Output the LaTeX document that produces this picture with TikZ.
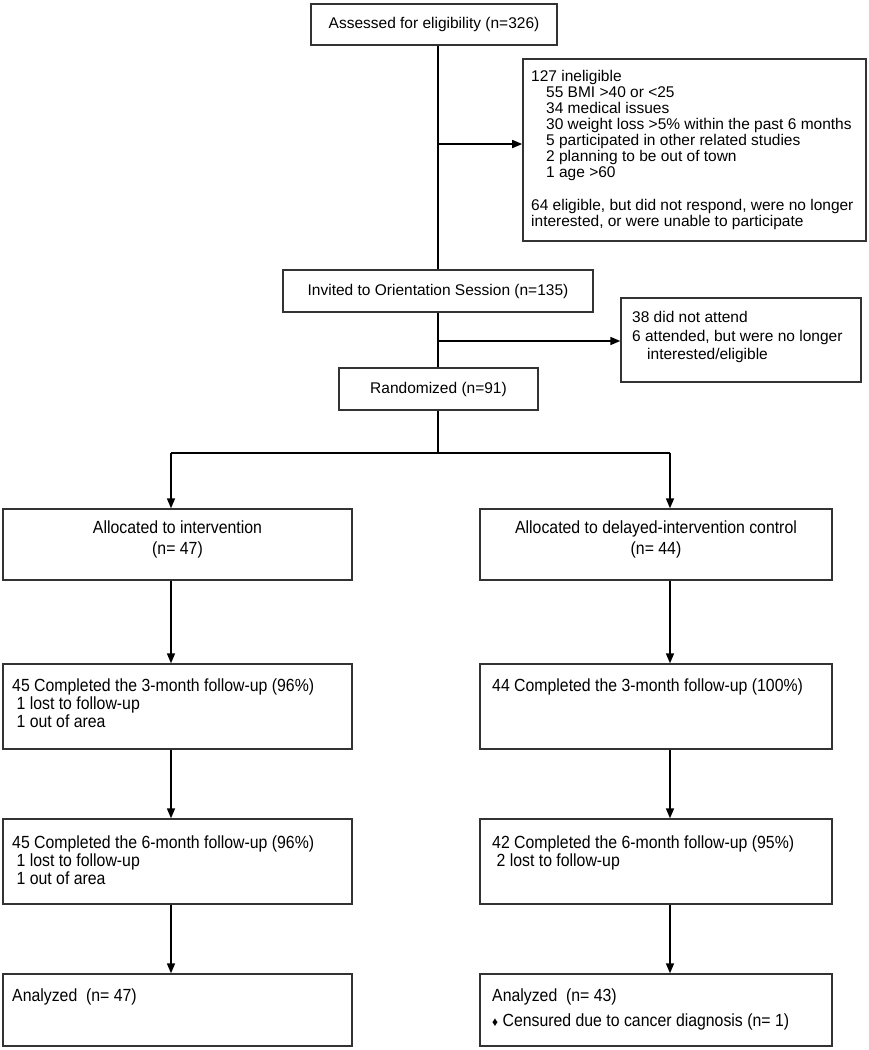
\documentclass[tikz,border=0pt]{standalone}
\usepackage{fontspec}
\setmainfont{Liberation Sans}
\newfontfamily\narrowfont[FakeStretch=0.9]{Liberation Sans}
\usetikzlibrary{arrows.meta}
\begin{document}
\begin{tikzpicture}[x=1pt,y=-1pt,
  box/.style={draw=black!80, line width=1.4pt, rectangle, inner sep=0pt},
  txt/.style={inner sep=0pt, anchor=north west, align=left},
  ctxt/.style={inner sep=0pt, align=center},
  up/.style={font=\fontsize{15.5}{16}\selectfont},
  upb/.style={font=\fontsize{15.5}{18.5}\selectfont},
  low/.style={font=\narrowfont\fontsize{17.6}{18}\selectfont},
  lowc/.style={font=\narrowfont\fontsize{17.6}{20.5}\selectfont},
  lowa/.style={font=\narrowfont\fontsize{17.6}{25}\selectfont},
  link/.style={line width=1.6pt, black},
  arr/.style={link, -{Triangle[length=10pt,width=8pt]}}
]
\useasboundingbox (0,0) rectangle (868,1050);

% top part
\node[box, minimum width=246pt, minimum height=41pt, up] (A) at (434,24.5) {Assessed for eligibility (n=326)};
\node[box, minimum width=343pt, minimum height=182pt] (E1) at (694.4,150) {};
\node[txt, up] (E1t) at (531,70.5) {127 ineligible\\\hspace*{15pt}55 BMI >40 or <25\\\hspace*{15pt}34 medical issues\\\hspace*{15pt}30 weight loss >5\% within the past 6 months\\\hspace*{15pt}5 participated in other related studies\\\hspace*{15pt}2 planning to be out of town\\\hspace*{15pt}1 age >60\\[17pt]64 eligible, but did not respond, were no longer\\interested, or were unable to participate};

\node[box, minimum width=310pt, minimum height=42pt, up] (I) at (438,291) {Invited to Orientation Session (n=135)};
\node[box, minimum width=240pt, minimum height=84pt] (E2) at (741,340) {};
\node[txt, upb] (E2t) at (632,311.5) {38 did not attend\\6 attended, but were no longer\\\hspace*{15pt}interested/eligible};

\node[box, minimum width=199pt, minimum height=42pt, up] (R) at (438.5,389) {Randomized (n=91)};

% arms
\node[box, minimum width=349pt, minimum height=71pt] (L1) at (177.5,544.5) {};
\node[ctxt, lowc] (L1t) at (177.5,539.5) {Allocated to intervention\\(n= 47)};
\node[box, minimum width=352pt, minimum height=71pt] (R1) at (656,544.5) {};
\node[ctxt, lowc] (R1t) at (656,539.5) {Allocated to delayed-intervention control\\(n= 44)};

\node[box, minimum width=349pt, minimum height=85pt] (L2) at (177.5,706.5) {};
\node[txt, low] (L2t) at (12,678.5) {45 Completed the 3-month follow-up (96\%)\\\hspace*{4.4pt}1 lost to follow-up\\\hspace*{4.4pt}1 out of area};
\node[box, minimum width=352pt, minimum height=85pt] (R2) at (656,706.5) {};
\node[txt, low] (R2t) at (492,678.5) {44 Completed the 3-month follow-up (100\%)};

\node[box, minimum width=349pt, minimum height=85pt] (L3) at (177.5,861.5) {};
\node[txt, low] (L3t) at (12,835.5) {45 Completed the 6-month follow-up (96\%)\\\hspace*{4.4pt}1 lost to follow-up\\\hspace*{4.4pt}1 out of area};
\node[box, minimum width=352pt, minimum height=85pt] (R3) at (656,861.5) {};
\node[txt, low] (R3t) at (492,835.5) {42 Completed the 6-month follow-up (95\%)\\\hspace*{4.4pt}2 lost to follow-up};

\node[box, minimum width=349pt, minimum height=72pt] (L4) at (177.5,1010) {};
\node[txt, lowa] (L4t) at (12,989) {Analyzed\ \ (n= 47)};
\node[box, minimum width=352pt, minimum height=72pt] (R4) at (656,1010) {};
\node[txt, lowa] (R4t) at (492,989) {Analyzed\ \ (n= 43)\\{\fontsize{13}{13}\selectfont ♦} Censured due to cancer diagnosis (n= 1)};

% connectors
\coordinate (j1) at (438,144);
\coordinate (j2) at (438,341);
\coordinate (sl) at (171,453);
\coordinate (sr) at (670,453);
\draw[link] (A.south -| I.north) -- (I.north);
\draw[arr] (j1) -- (j1 -| E1.west);
\draw[link] (I.south) -- (I.south |- R.north);
\draw[arr] (j2) -- (j2 -| E2.west);
\draw[link] (I.south |- R.south) -- (I.south |- sl);
\draw[link] (sl) -- (sr);
\draw[arr] (sl) -- (sl |- L1.north);
\draw[arr] (sr) -- (sr |- R1.north);
\draw[arr] (sl |- L1.south) -- (sl |- L2.north);
\draw[arr] (sr |- R1.south) -- (sr |- R2.north);
\draw[arr] (sl |- L2.south) -- (sl |- L3.north);
\draw[arr] (sr |- R2.south) -- (sr |- R3.north);
\draw[arr] (sl |- L3.south) -- (sl |- L4.north);
\draw[arr] (sr |- R3.south) -- (sr |- R4.north);
\end{tikzpicture}
\end{document}
